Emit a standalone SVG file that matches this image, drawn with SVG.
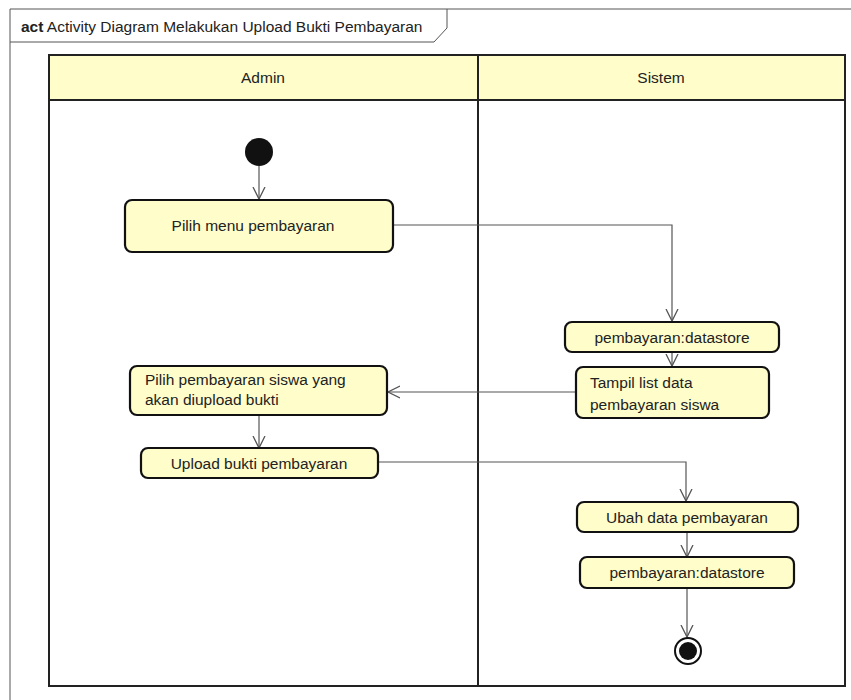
<svg xmlns="http://www.w3.org/2000/svg" width="851" height="700" viewBox="0 0 851 700">
  <style>
    .frame { fill: none; stroke: #555; stroke-width: 1; }
    .lane { fill: #fff; stroke: #222; stroke-width: 2; }
    .lanehead { fill: #fffdca; stroke: #222; stroke-width: 2; }
    .act { fill: #fffdca; stroke: #111; stroke-width: 2.2; }
    .txt { font-family: "Liberation Sans", Arial, sans-serif; font-size: 15.5px; fill: #222; }
    .mid { text-anchor: middle; }
    .edge { fill: none; stroke: #555; stroke-width: 1.2; }
  </style>
  <defs>
    <marker id="open" viewBox="0 0 14 14" refX="12" refY="7" markerWidth="14" markerHeight="14" markerUnits="userSpaceOnUse" orient="auto">
      <path d="M0,1 L12,7 L0,13" fill="none" stroke="#555" stroke-width="1.3"/>
    </marker>
  </defs>

  <rect width="851" height="700" fill="#fff"/>

  <!-- diagram frame and title tab -->
  <g id="frame">
    <path class="frame" d="M10,700 L10,9 L851,9"/>
    <path class="frame" d="M10,42 L434,42 L447,28 L447,9"/>
    <text class="txt" x="21" y="32" font-size="15px"><tspan font-weight="bold">act</tspan> Activity Diagram Melakukan Upload Bukti Pembayaran</text>
  </g>

  <!-- swimlanes -->
  <g id="lanes">
    <rect class="lane" x="49" y="55" width="796" height="631"/>
    <rect class="lanehead" x="49" y="55" width="796" height="45"/>
    <line x1="478" y1="55" x2="478" y2="686" stroke="#222" stroke-width="2"/>
    <text class="txt mid" x="263" y="83">Admin</text>
    <text class="txt mid" x="661" y="83">Sistem</text>
  </g>

  <!-- connectors -->
  <g id="connectors">
    <line class="edge" x1="259" y1="166" x2="259" y2="199" marker-end="url(#open)"/>
    <polyline class="edge" points="393,225 672,225 672,321" marker-end="url(#open)"/>
    <line class="edge" x1="672" y1="352" x2="672" y2="366" marker-end="url(#open)"/>
    <line class="edge" x1="576" y1="392" x2="388" y2="392" marker-end="url(#open)"/>
    <line class="edge" x1="259" y1="415" x2="259" y2="448" marker-end="url(#open)"/>
    <polyline class="edge" points="378,462 686,462 686,501" marker-end="url(#open)"/>
    <line class="edge" x1="687" y1="532" x2="687" y2="557" marker-end="url(#open)"/>
    <line class="edge" x1="687" y1="588" x2="687" y2="637" marker-end="url(#open)"/>
  </g>

  <!-- initial node -->
  <g id="start">
    <circle cx="259" cy="152" r="14" fill="#111"/>
  </g>

  <g id="pilih-menu">
    <rect class="act" x="125" y="200" width="268" height="52" rx="7"/>
    <text class="txt mid" x="253" y="231">Pilih menu pembayaran</text>
  </g>

  <g id="datastore-1">
    <rect class="act" x="565" y="322" width="214" height="30" rx="7"/>
    <text class="txt mid" x="672" y="343">pembayaran:datastore</text>
  </g>

  <g id="tampil-list">
    <rect class="act" x="576" y="367" width="193" height="51" rx="7"/>
    <text class="txt" x="590" y="388">Tampil list data</text>
    <text class="txt" x="590" y="410">pembayaran siswa</text>
  </g>

  <g id="pilih-pembayaran">
    <rect class="act" x="130" y="366" width="257" height="49" rx="7"/>
    <text class="txt" x="145" y="385">Pilih pembayaran siswa yang</text>
    <text class="txt" x="145" y="405">akan diupload bukti</text>
  </g>

  <g id="upload-bukti">
    <rect class="act" x="141" y="448" width="237" height="30" rx="7"/>
    <text class="txt mid" x="259" y="469">Upload bukti pembayaran</text>
  </g>

  <g id="ubah-data">
    <rect class="act" x="577" y="502" width="221" height="30" rx="7"/>
    <text class="txt mid" x="687" y="523">Ubah data pembayaran</text>
  </g>

  <g id="datastore-2">
    <rect class="act" x="580" y="557" width="214" height="31" rx="7"/>
    <text class="txt mid" x="687" y="578">pembayaran:datastore</text>
  </g>

  <!-- final node -->
  <g id="end">
    <circle cx="688" cy="651" r="13" fill="#fff" stroke="#111" stroke-width="2"/>
    <circle cx="688" cy="651" r="9" fill="#111"/>
  </g>
</svg>
